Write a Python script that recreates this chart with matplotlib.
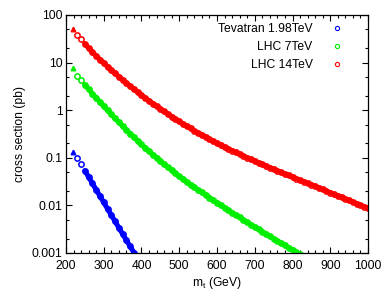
import matplotlib
matplotlib.use('Agg')
import matplotlib.pyplot as plt
from matplotlib.lines import Line2D
from matplotlib.ticker import LogLocator, MultipleLocator, FuncFormatter, NullFormatter

plt.rcParams['font.family'] = ['Liberation Sans', 'DejaVu Sans']
plt.rcParams['mathtext.fontset'] = 'custom'
plt.rcParams['mathtext.rm'] = 'Liberation Sans'

# top mass (GeV) and cross sections (pb)
mass_tev = [230, 240, 250, 260, 270, 280, 290, 300, 310, 320, 330, 340,
            350, 360, 370, 380]
xs_tev = [0.100, 0.0733, 0.0537, 0.0394, 0.0290, 0.0213, 0.01565, 0.01151,
          0.00848, 0.00625, 0.00461, 0.00340, 0.00251, 0.00186, 0.00137,
          0.00102]

mass_lhc7 = [230, 240, 250, 260, 270, 280, 290, 300, 310, 320, 330, 340,
             350, 360, 370, 380, 390, 400, 410, 420, 430, 440, 450, 460,
             470, 480, 490, 500, 510, 520, 530, 540, 550, 560, 570, 580,
             590, 600, 610, 620, 630, 640, 650, 660, 670, 680, 690, 700,
             710, 720, 730, 740, 750, 760, 770, 780, 790, 800, 810, 820]
xs_lhc7 = [5.25, 4.22, 3.40, 2.75, 2.23, 1.81, 1.48, 1.21, 0.992, 0.816,
           0.674, 0.558, 0.463, 0.386, 0.322, 0.270, 0.227, 0.191, 0.162,
           0.137, 0.117, 0.0995, 0.0852, 0.0731, 0.0629, 0.0543, 0.0470,
           0.0409, 0.0356, 0.0311, 0.0273, 0.0240, 0.0211, 0.0187, 0.0165,
           0.01459, 0.0129, 0.01143, 0.01013, 0.00898, 0.00797, 0.00708,
           0.00629, 0.00559, 0.00497, 0.00443, 0.00395, 0.00352, 0.00314,
           0.00281, 0.00250, 0.00224, 0.00200, 0.00179, 0.00161, 0.00144,
           0.00129, 0.00116, 0.00104, 0.00094]

mass_lhc14 = [230, 240, 250, 260, 270, 280, 290, 300, 310, 320, 330, 340,
              350, 360, 370, 380, 390, 400, 410, 420, 430, 440, 450, 460,
              470, 480, 490, 500, 510, 520, 530, 540, 550, 560, 570, 580,
              590, 600, 610, 620, 630, 640, 650, 660, 670, 680, 690, 700,
              710, 720, 730, 740, 750, 760, 770, 780, 790, 800, 810, 820,
              830, 840, 850, 860, 870, 880, 890, 900, 910, 920, 930, 940,
              950, 960, 970, 980, 990, 1000]
xs_lhc14 = [38.9, 30.9, 24.8, 20.2, 16.6, 13.8, 11.6, 9.73, 8.22, 6.98,
            5.94, 5.07, 4.34, 3.72, 3.19, 2.75, 2.39, 2.07, 1.81, 1.58,
            1.38, 1.21, 1.07, 0.940, 0.830, 0.735, 0.652, 0.579, 0.516,
            0.461, 0.413, 0.371, 0.333, 0.301, 0.272, 0.246, 0.223, 0.203,
            0.185, 0.169, 0.155, 0.142, 0.130, 0.119, 0.109, 0.101, 0.0927,
            0.0855, 0.0789, 0.0728, 0.0673, 0.0622, 0.0575, 0.0533, 0.0494,
            0.0458, 0.0425, 0.0394, 0.0366, 0.0340, 0.0316, 0.0293, 0.0272,
            0.0252, 0.0233, 0.0216, 0.0200, 0.0186, 0.0172, 0.0160, 0.0148,
            0.0137, 0.0127, 0.0118, 0.0109, 0.0101, 0.00938, 0.00869]

# first point of each curve, drawn as a filled triangle
tri_mass = [219, 219, 219]
tri_xs = [0.134, 7.6, 50.0]

labels = ['Tevatran 1.98TeV', 'LHC 7TeV', 'LHC 14TeV']
colors = ['#0000ff', '#00ee00', '#ff0000']

fig = plt.figure(figsize=(3.9, 3.04), dpi=100)
ax = fig.add_axes([0.1692, 0.1678, 0.7744, 0.7829])

series = [(mass_tev, xs_tev), (mass_lhc7, xs_lhc7), (mass_lhc14, xs_lhc14)]
handles = []
for i, (m, s) in enumerate(series):
    # the dense points merge into a solid band after the first few
    ax.plot(m[2:], s[2:], ls='-', color=colors[i], lw=3.6,
            solid_capstyle='round')
    ax.plot(m, s, ls='none', marker='o', mfc='none', mec=colors[i],
            ms=3.8, mew=1.1)
    ax.plot([tri_mass[i]], [tri_xs[i]], ls='none', marker='^',
            color=colors[i], ms=3.3)
    handles.append(Line2D([], [], ls='none', marker='o', mfc='none',
                          mec=colors[i], ms=3.0, mew=0.8, label=labels[i]))

ax.set_yscale('log')
ax.set_xlim(200, 1000)
ax.set_ylim(1e-3, 100)
ax.xaxis.set_major_locator(MultipleLocator(100))
ax.xaxis.set_minor_locator(MultipleLocator(20))
ax.yaxis.set_major_locator(LogLocator(base=10, numticks=10))
ax.yaxis.set_minor_locator(LogLocator(base=10, subs=(2.0, 5.0), numticks=10))
ax.yaxis.set_major_formatter(FuncFormatter(lambda v, p: '%g' % v))
ax.yaxis.set_minor_formatter(NullFormatter())

ax.tick_params(which='both', direction='in', top=True, right=True,
               labelsize=8.7, width=0.8, colors='black')
ax.tick_params(which='major', length=4.5)
ax.tick_params(which='minor', length=2.3)
ax.tick_params(axis='x', pad=5)
ax.tick_params(axis='y', pad=2.5)
for sp in ax.spines.values():
    sp.set_linewidth(0.9)

ax.set_xlabel(r'm$_\mathrm{t}$ (GeV)', fontsize=8.7, labelpad=2)
ax.set_ylabel('cross section (pb)', fontsize=8.7, labelpad=4)

ax.legend(handles=handles, loc='upper right', bbox_to_anchor=(0.953, 1.012),
          frameon=False, markerfirst=False, handlelength=1.0,
          handletextpad=1.5, labelspacing=0.5, fontsize=8.7)

fig.savefig('out.png', dpi=100)
